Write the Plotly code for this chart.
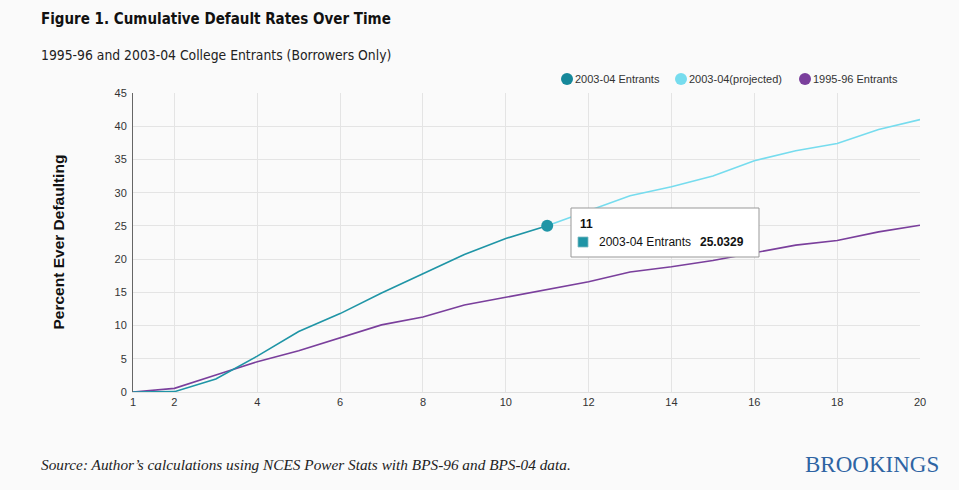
import plotly.graph_objects as go

years = list(range(1, 21))
entrants_0304 = [0, 0.05, 1.95, 5.4, 9.1, 11.8, 14.9, 17.85, 20.7, 23.1, 25.0329]
projected_years = list(range(11, 21))
projected_0304 = [25.0329, 27.3, 29.55, 30.9, 32.5, 34.8, 36.3, 37.4, 39.5, 41.0]
entrants_9596 = [0, 0.55, 2.56, 4.56, 6.2, 8.2, 10.1, 11.3, 13.1, 14.25, 15.45,
                 16.6, 18.06, 18.86, 19.8, 21.0, 22.1, 22.8, 24.1, 25.1]
x_ticks = [1, 2, 4, 6, 8, 10, 12, 14, 16, 18, 20]
y_ticks = [0, 5, 10, 15, 20, 25, 30, 35, 40, 45]
legend_names = ["2003-04 Entrants", "2003-04(projected)", "1995-96 Entrants"]

C_TEAL = "#1f95a6"
C_TEAL_DARK = "#16889a"
C_PROJ = "#76dcee"
C_PURP = "#7a3f9c"
BG = "#fafafa"

L, R, T, B = 133, 39, 93, 98
PW, PH = 959 - L - R, 490 - T - B


def px(xp):
    return (xp - L) / PW


def py(yp):
    return (490 - B - yp) / PH


fig = go.Figure()
fig.add_trace(go.Scatter(x=projected_years, y=projected_0304, mode="lines",
                         line=dict(color=C_PROJ, width=1.6), showlegend=False, hoverinfo="skip"))
fig.add_trace(go.Scatter(x=years, y=entrants_9596, mode="lines",
                         line=dict(color=C_PURP, width=1.6), showlegend=False, hoverinfo="skip"))
n = len(entrants_0304)
fig.add_trace(go.Scatter(x=years[:n], y=entrants_0304, mode="lines",
                         line=dict(color=C_TEAL, width=1.6),
                         showlegend=False, hoverinfo="skip"))
fig.add_trace(go.Scatter(x=[years[n - 1]], y=[entrants_0304[-1]], mode="markers",
                         marker=dict(size=12, color=C_TEAL, opacity=1, line=dict(width=0)),
                         showlegend=False, hoverinfo="skip"))

last_x = years[n - 1]
last_y = entrants_0304[-1]

fig.update_layout(
    width=959, height=490,
    margin=dict(l=L, r=R, t=T, b=B),
    paper_bgcolor=BG, plot_bgcolor=BG,
    font=dict(family="Liberation Sans, Arial, sans-serif", size=11, color="#333"),
    showlegend=False,
    xaxis=dict(range=[1, 20], tickvals=x_ticks, ticktext=[str(v) for v in x_ticks],
               showgrid=True, gridcolor="#e4e4e4", gridwidth=1, zeroline=False,
               showline=True, linecolor="#e0e0e0", ticks="", tickfont=dict(size=11, color="#333")),
    yaxis=dict(range=[0, 45], tickvals=y_ticks, showgrid=True, gridcolor="#e4e4e4",
               gridwidth=1, zeroline=False, showline=True, linecolor="#666", linewidth=1,
               ticks="", ticklabelstandoff=3, tickfont=dict(size=11, color="#333")),
)

# legend keys drawn as circles + labels
legend_cx = [567, 681, 805]
legend_cols = [C_TEAL_DARK, C_PROJ, C_PURP]
for cx, col, name in zip(legend_cx, legend_cols, legend_names):
    fig.add_shape(type="circle", xref="paper", yref="paper", xsizemode="pixel", ysizemode="pixel",
                  xanchor=px(cx), yanchor=py(79), x0=-6, x1=6, y0=-6, y1=6,
                  fillcolor=col, line=dict(width=0))
    fig.add_annotation(xref="paper", yref="paper", x=px(cx + 6), y=py(79), xanchor="left",
                       yanchor="middle", showarrow=False, text=name,
                       font=dict(family="Liberation Sans, Arial, sans-serif", size=11, color="#333"))

fig.add_annotation(xref="paper", yref="paper", x=px(58), y=0.5, xanchor="center", yanchor="middle",
                   text="<b>Percent Ever Defaulting</b>", textangle=-90, showarrow=False,
                   font=dict(family="Liberation Sans, Arial, sans-serif", size=15.5, color="#111"))

fig.add_annotation(xref="paper", yref="paper", x=px(39), y=py(8),
                   xanchor="left", yanchor="top", showarrow=False,
                   text="<b>Figure 1. Cumulative Default Rates Over Time</b>",
                   font=dict(family="Liberation Sans Narrow, DejaVu Sans Condensed, sans-serif", size=15, color="#111"))
fig.add_annotation(xref="paper", yref="paper", x=px(39), y=py(45),
                   xanchor="left", yanchor="top", showarrow=False,
                   text="1995-96 and 2003-04 College Entrants (Borrowers Only)",
                   font=dict(family="Liberation Sans Narrow, DejaVu Sans Condensed, sans-serif", size=13.8, color="#222"))
fig.add_annotation(xref="paper", yref="paper", x=px(39), y=py(454),
                   xanchor="left", yanchor="top", showarrow=False,
                   text="<i>Source: Author’s calculations using NCES Power Stats with BPS-96 and BPS-04 data.</i>",
                   font=dict(family="Liberation Serif, serif", size=15.3, color="#222"))
fig.add_annotation(xref="paper", yref="paper", x=px(941), y=py(450),
                   xanchor="right", yanchor="top", showarrow=False,
                   text="BROOKINGS",
                   font=dict(family="Liberation Serif, serif", size=23, color="#2e64a3"))

# tooltip box
fig.add_shape(type="rect", xref="paper", yref="paper", x0=px(571), x1=px(759), y0=py(257), y1=py(208),
              fillcolor="#ffffff", line=dict(color="#999", width=1), layer="above")
fig.add_shape(type="rect", xref="paper", yref="paper", x0=px(578), x1=px(588), y0=py(247), y1=py(237),
              fillcolor=C_TEAL, line=dict(color="#7fb9c2", width=0.8), layer="above")
fig.add_annotation(xref="paper", yref="paper", x=px(578), y=py(224), xanchor="left", yanchor="middle",
                   showarrow=False, text=f"<b>{last_x}</b>",
                   font=dict(family="Liberation Sans, Arial, sans-serif", size=12, color="#111"))
fig.add_annotation(xref="paper", yref="paper", x=px(597), y=py(242), xanchor="left", yanchor="middle",
                   showarrow=False, text=legend_names[0],
                   font=dict(family="Liberation Sans, Arial, sans-serif", size=12, color="#111"))
fig.add_annotation(xref="paper", yref="paper", x=px(698), y=py(242), xanchor="left", yanchor="middle",
                   showarrow=False, text=f"<b>{last_y}</b>",
                   font=dict(family="Liberation Sans, Arial, sans-serif", size=12, color="#111"))

fig.write_html("out.html")
